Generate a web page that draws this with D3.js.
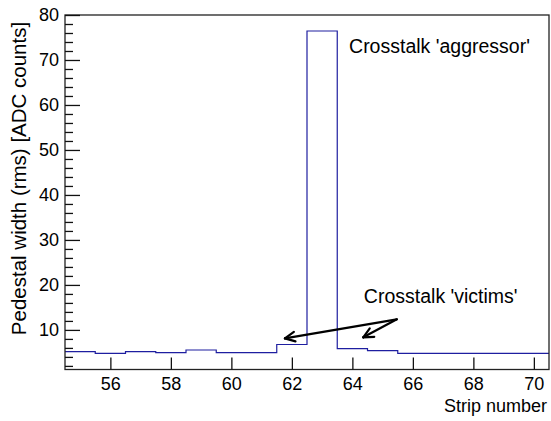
<!DOCTYPE html>
<html>
<head>
<meta charset="utf-8">
<script src="https://cdn.jsdelivr.net/npm/d3@7"></script>
<style>
  html, body { margin: 0; padding: 0; background: #fff; }
  svg { display: block; }
  text { font-family: "Liberation Sans", Arial, Helvetica, sans-serif; fill: #000; }
</style>
</head>
<body>
<svg id="chart" width="551" height="421"></svg>
<script>
// Strip-by-strip pedestal width (rms), ADC counts
const strips = [55, 56, 57, 58, 59, 60, 61, 62, 63, 64, 65, 66, 67, 68, 69, 70];
const pedestalRms = [5.16, 4.8, 5.16, 4.93, 5.53, 4.93, 4.93, 6.76, 76.44, 5.82, 5.38, 4.8, 4.8, 4.8, 4.8, 4.8];

const xTickValues = [56, 58, 60, 62, 64, 66, 68, 70];
const yTickValues = [10, 20, 30, 40, 50, 60, 70, 80];
const yMinorTickValues = [2, 4, 6, 8, 12, 14, 16, 18, 22, 24, 26, 28, 32, 34, 36, 38,
  42, 44, 46, 48, 52, 54, 56, 58, 62, 64, 66, 68, 72, 74, 76, 78];

const xTitle = "Strip number";
const yTitle = "Pedestal width (rms) [ADC counts]";
const aggressorLabel = "Crosstalk 'aggressor'";
const victimsLabel = "Crosstalk 'victims'";

const svg = d3.select("#chart");
const frame = { left: 65, right: 549, top: 15, bottom: 369.5 };

const x = d3.scaleLinear().domain([54.5, 70.5]).range([frame.left, frame.right]);
const y = d3.scaleLinear().domain([1.2, 80]).range([frame.bottom, frame.top]);

// Histogram drawn as a step line across bin edges
const stepPts = strips.map((s, i) => [s - 0.5, pedestalRms[i]]);
stepPts.push([strips[strips.length - 1] + 0.5, pedestalRms[pedestalRms.length - 1]]);
const step = d3.line()
  .x(d => x(d[0]))
  .y(d => y(d[1]))
  .curve(d3.curveStepAfter);

svg.append("path")
  .attr("d", step(stepPts))
  .attr("fill", "none")
  .attr("stroke", "#1e1ea0")
  .attr("stroke-width", 1.2);

// Frame
svg.append("rect")
  .attr("x", frame.left).attr("y", frame.top)
  .attr("width", frame.right - frame.left)
  .attr("height", frame.bottom - frame.top)
  .attr("fill", "none")
  .attr("stroke", "#222")
  .attr("stroke-width", 1.3);

// Y axis: major ticks with labels, minor ticks, all pointing inward
const yMajor = svg.append("g")
  .attr("transform", `translate(${frame.left},0)`)
  .call(d3.axisLeft(y).tickValues(yTickValues).tickSize(-15).tickPadding(6).tickFormat(d3.format("d")));
const yMinor = svg.append("g")
  .attr("transform", `translate(${frame.left},0)`)
  .call(d3.axisLeft(y).tickValues(yMinorTickValues).tickSize(-8).tickFormat(""));

// X axis: major ticks pointing up into the plot
const xMajor = svg.append("g")
  .attr("transform", `translate(0,${frame.bottom})`)
  .call(d3.axisBottom(x).tickValues(xTickValues).tickSize(-12).tickPadding(8).tickFormat(d3.format("d")));

[yMajor, yMinor, xMajor].forEach(g => {
  g.select(".domain").remove();
  g.selectAll(".tick line").attr("stroke", "#111").attr("stroke-width", 1.3);
  g.selectAll(".tick text").attr("font-size", 18).style("font-family", "'Liberation Sans', Arial, sans-serif");
});
xMajor.selectAll(".tick text").attr("dy", null).attr("y", 20.5);

// Axis titles
svg.append("text")
  .attr("x", 547).attr("y", 412)
  .attr("text-anchor", "end")
  .attr("font-size", 18)
  .text(xTitle);

svg.append("text")
  .attr("transform", "translate(25.5,178.5) rotate(-90)")
  .attr("text-anchor", "middle")
  .attr("font-size", 20.5)
  .text(yTitle);

// Annotations
svg.append("text")
  .attr("x", x(63.89)).attr("y", y(71.6))
  .attr("font-size", 19.5)
  .text(aggressorLabel);

svg.append("text")
  .attr("x", x(64.38)).attr("y", y(16.0))
  .attr("font-size", 19.5)
  .text(victimsLabel);

// Arrows from the victims label down to the neighbouring strips
const arrowFrom = [65.47, 12.36];
const arrowTips = [[61.77, 8.13], [64.36, 8.36]];
const arrows = svg.append("g")
  .attr("stroke", "#000")
  .attr("stroke-width", 2.2)
  .attr("fill", "none")
  .attr("stroke-linecap", "round");

arrowTips.forEach(tip => {
  const x0 = x(arrowFrom[0]), y0 = y(arrowFrom[1]);
  const x1 = x(tip[0]), y1 = y(tip[1]);
  arrows.append("line").attr("x1", x0).attr("y1", y0).attr("x2", x1).attr("y2", y1);
  const ang = Math.atan2(y1 - y0, x1 - x0);
  const len = 11, spread = Math.PI / 7;
  [ang + Math.PI - spread, ang + Math.PI + spread].forEach(a => {
    arrows.append("line")
      .attr("x1", x1).attr("y1", y1)
      .attr("x2", x1 + len * Math.cos(a))
      .attr("y2", y1 + len * Math.sin(a));
  });
});
</script>
</body>
</html>
